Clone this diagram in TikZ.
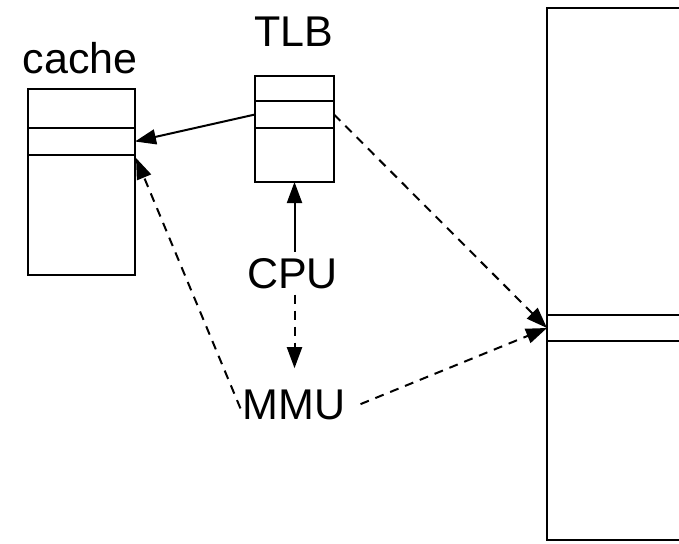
\documentclass[tikz,border=0pt]{standalone}
\usepackage{fontspec}
\setmainfont{Liberation Sans}
\usetikzlibrary{arrows.meta}
\begin{document}
\begin{tikzpicture}[x=1pt,y=-1pt,
  box/.style={draw=black,line width=2pt,inner sep=0pt,outer sep=0pt,anchor=center},
  lab/.style={font=\fontsize{43}{50}\selectfont,inner sep=2pt,anchor=base},
  conn/.style={draw=black,line width=2pt,-{Triangle[length=21pt,width=15pt]}},
  dconn/.style={conn,dash pattern=on 9pt off 7pt}]
\clip (0,0) rectangle (679,543);
\fill[white] (0,0) rectangle (679,543);
% cache
\node[box,minimum width=107pt,minimum height=186pt] (cache) at (81.5,182) {};
\node[box,minimum width=107pt,minimum height=27pt] (cslot) at (81.5,141.5) {};
\node[lab] (cachelbl) at (80,73) {cache};
% TLB
\node[box,minimum width=79pt,minimum height=106pt] (tlb) at (294.5,129) {};
\node[box,minimum width=79pt,minimum height=27pt] (tslot) at (294.5,114.5) {};
\node[lab] (tlblbl) at (294,47) {TLB};
% memory
\node[box,minimum width=180pt,minimum height=532pt] (mem) at (637,274) {};
\node[box,minimum width=180pt,minimum height=26pt] (mslot) at (637,328) {};
% CPU, MMU
\node[lab,inner sep=6pt] (cpu) at (292.5,288) {CPU};
\node[lab] (mmu) at (294,419) {MMU};
% connectors
\draw[conn] (cpu.north -| tlb.south) -- (tlb.south);
\draw[dconn,shorten >=19pt] (cpu.south -| tlb.south) -- (mmu.north -| tlb.south);
\draw[conn] (tslot.west) -- (cslot.east);
\draw[dconn] (tslot.east) -- (mslot.west);
\draw[dconn,shorten <=14pt] ([yshift=-5pt]mmu.east) -- (mslot.west);
\draw[dconn] ([yshift=-4pt]mmu.west) -- ([xshift=1pt,yshift=-3pt]cslot.south east);
\end{tikzpicture}
\end{document}
